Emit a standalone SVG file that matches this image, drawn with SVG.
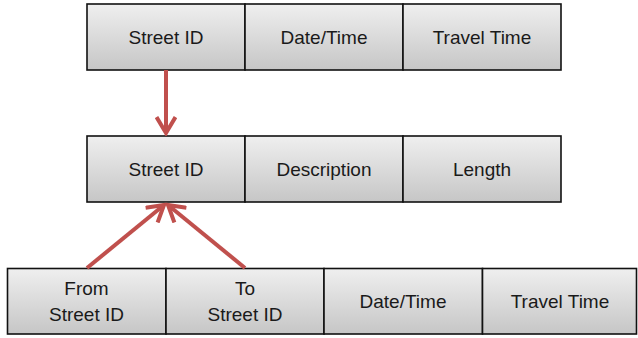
<svg xmlns="http://www.w3.org/2000/svg" width="638" height="338" viewBox="0 0 638 338">
<defs>
<linearGradient id="g" x1="0" y1="0" x2="0" y2="1">
<stop offset="0" stop-color="#efefef"/>
<stop offset="1" stop-color="#c6c6c6"/>
</linearGradient>
<marker id="ah" markerUnits="userSpaceOnUse" viewBox="0 0 22 22" refX="19" refY="11" markerWidth="22" markerHeight="22" orient="auto">
<path d="M3,1.5 L19,11 L3,20.5" fill="none" stroke="#c0504d" stroke-width="4" stroke-linecap="butt" stroke-linejoin="miter"/>
</marker>
</defs>
<style>
rect{fill:url(#g);stroke:#111;stroke-width:1.6}
text{font-family:"Liberation Sans",Arial,sans-serif;font-size:19px;fill:#1a1a1a;text-anchor:middle}
.c{fill:none;stroke:#c0504d;stroke-width:4}
</style>
<g id="row1">
<g id="t1"><rect x="87" y="4" width="158" height="66"/><text x="166" y="44">Street ID</text></g>
<g id="t2"><rect x="245" y="4" width="158" height="66"/><text x="324" y="44">Date/Time</text></g>
<g id="t3"><rect x="403" y="4" width="158" height="66"/><text x="482" y="44">Travel Time</text></g>
</g>
<g id="row2">
<g id="m1"><rect x="87" y="136" width="158" height="66"/><text x="166" y="176">Street ID</text></g>
<g id="m2"><rect x="245" y="136" width="158" height="66"/><text x="324" y="176">Description</text></g>
<g id="m3"><rect x="403" y="136" width="158" height="66"/><text x="482" y="176">Length</text></g>
</g>
<g id="row3">
<g id="b1"><rect x="7.5" y="268.5" width="158.5" height="65.5"/><text x="86.5" y="295">From</text><text x="86.5" y="321">Street ID</text></g>
<g id="b2"><rect x="166" y="268.5" width="158" height="65.5"/><text x="245" y="295">To</text><text x="245" y="321">Street ID</text></g>
<g id="b3"><rect x="324" y="268.5" width="158.5" height="65.5"/><text x="403" y="308">Date/Time</text></g>
<g id="b4"><rect x="482.5" y="268.5" width="154" height="65.5"/><text x="560" y="308">Travel Time</text></g>
</g>
<g id="connectors">
<line class="c" x1="166" y1="70" x2="166" y2="133" marker-end="url(#ah)"/>
<line class="c" x1="87" y1="268" x2="164" y2="205" marker-end="url(#ah)"/>
<line class="c" x1="245" y1="268" x2="168" y2="205" marker-end="url(#ah)"/>
</g>
</svg>
